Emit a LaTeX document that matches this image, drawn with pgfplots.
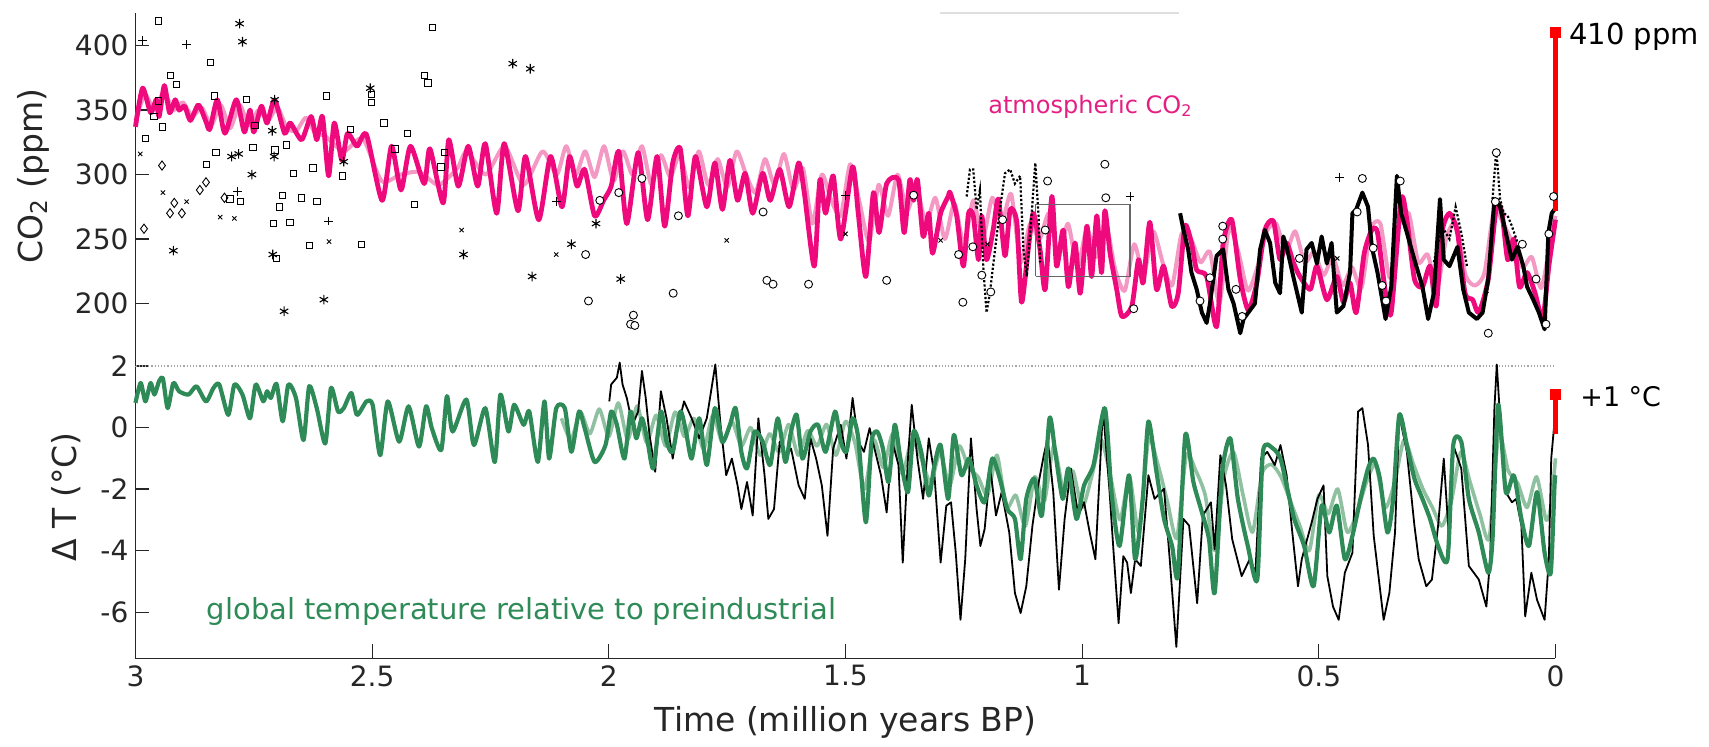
\documentclass[border=0pt]{standalone}
\usepackage{fontspec}
\setmainfont{DejaVu Sans}
\usepackage{pgfplots}
\pgfplotsset{compat=1.18}

\definecolor{co2pink}{RGB}{238,10,125}
\definecolor{co2light}{RGB}{240,110,170}
\definecolor{txtpink}{RGB}{228,30,130}
\definecolor{tgreen}{RGB}{46,139,87}
\definecolor{tlight}{RGB}{105,172,130}
\definecolor{axgray}{RGB}{38,38,38}

\pgfplotsset{
  base/.style={
    scale only axis, width=710pt, x dir=reverse, xmin=0, xmax=3,
    axis lines=left, axis line style={-, axgray, line width=0.6pt},
    tick align=inside, major tick length=7pt,
    tick style={axgray, line width=0.6pt},
    tick label style={font=\fontsize{14}{16}\selectfont, text=axgray},
    label style={font=\fontsize{16.5}{19}\selectfont, text=axgray},
    /pgf/number format/assume math mode=true,
    clip=false, anchor=south west,
  },
  sq/.style={only marks, mark=square, mark size=1.6pt, black, line width=0.45pt},
  ast/.style={only marks, mark=asterisk, mark size=2.4pt, black, line width=0.55pt},
  pls/.style={only marks, mark=+, mark size=2.2pt, black, line width=0.45pt},
  crs/.style={only marks, mark=x, mark size=1.5pt, black, line width=0.45pt},
  dia/.style={only marks, mark=diamond, mark size=2.3pt, black, line width=0.45pt},
  cir/.style={only marks, mark=*, mark size=2pt, mark options={fill=white, draw=black, line width=0.45pt}},
}

\begin{document}
\begin{tikzpicture}
\useasboundingbox (-67.75pt,-44.35pt) rectangle (786.75pt,329.15pt);

% ---------------- temperature panel ----------------
\begin{axis}[base, at={(0,0)}, height=146.15pt,
  ymin=-7.5, ymax=2, ytick={-6,-4,-2,0,2},
  xtick={0,0.5,1,1.5,2,2.5,3},
  xlabel={Time (million years BP)},
  ylabel={Δ T (°C)},
  xlabel style={at={(axis description cs:0.5,-0.218)}, anchor=center},
  ylabel style={at={(axis description cs:-0.049,0.552)}, anchor=center},
]
\addplot[gray!70, densely dotted, line width=0.6pt] coordinates {(3,2) (0,2)};

% lighter model realisations
\addplot[tlight, line width=1.8pt, opacity=0.75, line join=round, smooth, tension=0.4] coordinates {
(2.10,0.3) (2.08,-0.4) (2.06,0.5) (2.04,-0.2) (2.02,0.6) (2.00,-0.3) (1.98,0.8) (1.96,-0.4)
(1.94,0.7) (1.92,-0.5) (1.90,0.4) (1.88,-0.6) (1.86,0.5) (1.84,-0.3) (1.82,0.3) (1.80,-0.7)
(1.78,0.4) (1.76,-0.5) (1.74,0.2) (1.72,-0.6) (1.70,0.0) (1.68,-0.9) (1.66,-0.2) (1.64,-0.8)
(1.62,0.1) (1.60,-0.9) (1.58,-0.1) (1.56,-0.6) (1.54,0.1) (1.52,-0.9) (1.50,0.2) (1.48,-0.5)
(1.46,-2.0) (1.44,-0.4) (1.42,-1.3) (1.40,-0.2) (1.38,-1.5) (1.36,-0.4) (1.34,-1.0) (1.32,-1.8)
(1.30,-0.8) (1.28,-1.9) (1.26,-0.6) (1.24,-1.3) (1.22,-1.6) (1.20,-2.2) (1.18,-0.9) (1.16,-2.6)
(1.14,-2.2) (1.12,-3.2) (1.10,-1.6) (1.08,-2.4) (1.06,-0.6) (1.04,-2.0) (1.02,-1.4) (1.00,-2.6)
(0.98,-1.6) (0.96,-0.4) (0.94,-1.6) (0.92,-3.0) (0.90,-1.6) (0.88,-3.4) (0.86,-0.4) (0.84,-1.2)
(0.82,-2.4) (0.80,-3.6) (0.78,-0.9) (0.76,-1.4) (0.74,-2.2) (0.72,-4.0) (0.70,-1.6) (0.68,-0.8)
(0.66,-2.2) (0.64,-3.4) (0.62,-1.5) (0.60,-1.2) (0.58,-1.6) (0.56,-2.4) (0.54,-3.2) (0.52,-4.0)
(0.50,-2.2) (0.48,-2.8) (0.46,-2.0) (0.44,-3.4) (0.42,-2.8) (0.40,-1.8) (0.38,-1.2) (0.36,-2.6)
(0.34,-1.8) (0.32,-0.4) (0.30,-1.2) (0.28,-2.0) (0.26,-2.6) (0.24,-3.2) (0.22,-2.4) (0.20,-0.8)
(0.18,-1.8) (0.16,-2.8) (0.14,-3.6) (0.12,-0.2) (0.10,-1.4) (0.08,-1.8) (0.06,-2.6) (0.04,-1.6)
(0.02,-3.0) (0.01,-2.6) (0,-1.0)
};

% reconstruction (black)
\addplot[black, line width=0.9pt, line join=round] coordinates {
(1.999,0.85) (1.995,1.40) (1.983,1.62) (1.977,2.11) (1.971,1.40) (1.962,0.96) (1.950,0.09) (1.938,0.52)
(1.930,1.84) (1.922,0.96) (1.914,-0.24) (1.902,-1.44) (1.890,1.18) (1.878,0.30) (1.865,-1.01) (1.853,0.09)
(1.841,0.85) (1.825,0.30) (1.809,-0.35) (1.793,0.30) (1.775,2.05) (1.764,0.09) (1.752,-1.55) (1.740,-1.01)
(1.728,-1.88) (1.720,-2.65) (1.708,-1.77) (1.696,-2.86) (1.684,0.30) (1.671,-1.55) (1.663,-2.97) (1.651,-2.65)
(1.639,-0.46) (1.627,-1.01) (1.615,-0.68) (1.599,-1.88) (1.586,-2.32) (1.574,-0.35) (1.562,-1.01) (1.550,-1.88)
(1.538,-3.52) (1.526,-0.68) (1.510,0.09) (1.498,-1.01) (1.485,0.96) (1.473,-0.46) (1.461,-0.79) (1.449,-0.02)
(1.437,-0.79) (1.425,-1.55) (1.413,-2.76) (1.401,-0.46) (1.388,-1.22) (1.379,-4.39) (1.368,-1.01) (1.360,0.74)
(1.348,-1.01) (1.336,-2.32) (1.324,-0.35) (1.312,-1.55) (1.299,-4.39) (1.287,-2.54) (1.277,-2.43) (1.267,-4.07)
(1.257,-6.25) (1.247,-4.28) (1.235,-0.35) (1.223,-2.65) (1.215,-3.85) (1.206,-3.30) (1.194,-1.33) (1.182,-2.86)
(1.170,-2.10) (1.154,-3.41) (1.142,-5.38) (1.130,-6.03) (1.118,-5.16) (1.105,-3.19) (1.093,-1.88) (1.081,-0.90)
(1.073,-0.35) (1.061,-2.10) (1.049,-5.27) (1.037,-2.97) (1.024,-1.33) (1.008,-2.86) (0.996,-2.43) (0.984,-3.41)
(0.972,-4.28) (0.956,0.63) (0.942,-2.10) (0.934,-3.96) (0.923,-6.36) (0.913,-4.18) (0.905,-4.39) (0.897,-5.38)
(0.888,-4.28) (0.876,-4.50) (0.860,-1.55) (0.847,-2.32) (0.827,-1.99) (0.815,-4.28) (0.801,-7.13) (0.786,-2.97)
(0.774,-3.19) (0.757,-5.71) (0.745,-2.86) (0.728,-2.43) (0.720,-3.96) (0.708,-0.90) (0.696,-1.88) (0.683,-3.63)
(0.663,-4.83) (0.646,-4.28) (0.634,-4.72) (0.622,-1.01) (0.609,-0.79) (0.593,-1.22) (0.581,-0.57) (0.568,-1.55)
(0.556,-3.41) (0.544,-5.16) (0.536,-4.28) (0.515,-3.08) (0.503,-2.32) (0.490,-1.88) (0.482,-4.83) (0.470,-5.82)
(0.458,-6.25) (0.445,-4.72) (0.429,-4.07) (0.417,0.52) (0.408,0.63) (0.396,-0.57) (0.384,-3.52) (0.363,-6.25)
(0.351,-5.38) (0.339,-3.41) (0.330,0.41) (0.314,-0.79) (0.298,-3.19) (0.289,-4.28) (0.273,-5.16) (0.261,-4.94)
(0.248,-3.19) (0.236,-1.01) (0.224,-3.85) (0.216,-0.57) (0.199,-1.33) (0.183,-4.50) (0.162,-4.94) (0.146,-5.82)
(0.138,-4.28) (0.129,0.63) (0.124,2.05) (0.117,0.30) (0.105,-2.10) (0.092,-2.43) (0.083,-2.32) (0.072,-3.19)
(0.064,-6.14) (0.051,-4.72) (0.039,-5.60) (0.023,-6.25) (0.014,-4.28) (0.009,-1.01) (0.002,0.20)
};

% main model (green)
\addplot[tgreen, line width=2.1pt, line join=round, smooth, tension=0.4] coordinates {
(3.000,0.80) (2.989,1.45) (2.979,0.85) (2.968,1.45) (2.960,1.07) (2.950,1.51) (2.942,1.59) (2.932,0.63)
(2.920,1.45) (2.908,1.18) (2.888,1.07) (2.871,1.34) (2.851,0.85) (2.835,1.29) (2.823,1.40) (2.804,0.41)
(2.791,1.40) (2.774,1.07) (2.758,0.30) (2.746,1.40) (2.730,0.85) (2.722,1.18) (2.714,0.96) (2.702,1.42)
(2.689,0.20) (2.677,1.40) (2.661,0.96) (2.645,-0.41) (2.633,1.34) (2.617,0.63) (2.599,-0.52) (2.587,1.29)
(2.572,0.52) (2.560,0.63) (2.544,1.12) (2.532,0.41) (2.512,0.85) (2.499,0.74) (2.483,-0.90) (2.467,0.85)
(2.443,-0.46) (2.423,0.69) (2.401,-0.62) (2.386,0.69) (2.374,-0.02) (2.354,-0.73) (2.342,1.02) (2.330,-0.13)
(2.301,0.91) (2.285,-0.57) (2.261,0.63) (2.241,-1.12) (2.229,1.07) (2.212,-0.13) (2.200,0.74) (2.180,0.09)
(2.168,0.52) (2.150,-1.12) (2.136,0.85) (2.126,-1.01) (2.111,0.63) (2.093,0.63) (2.079,-0.79) (2.063,0.52)
(2.051,-0.02) (2.030,-1.12) (2.007,-0.57) (1.995,0.52) (1.983,0.09) (1.967,-1.01) (1.954,0.52) (1.942,-0.35)
(1.930,0.30) (1.918,-0.46) (1.906,-1.33) (1.890,0.52) (1.878,-0.46) (1.865,-0.79) (1.849,0.52) (1.837,-0.13)
(1.825,-1.01) (1.809,0.30) (1.793,-1.22) (1.776,0.63) (1.760,-0.46) (1.744,0.09) (1.732,0.63) (1.720,-0.79)
(1.708,-1.33) (1.692,-0.13) (1.675,-0.46) (1.659,-1.22) (1.643,0.30) (1.627,-1.12) (1.615,-0.13) (1.603,0.41)
(1.591,-1.01) (1.574,-0.13) (1.558,0.09) (1.542,-0.79) (1.522,0.52) (1.510,-0.46) (1.498,-0.79) (1.485,0.30)
(1.473,-0.35) (1.457,-3.08) (1.445,-0.46) (1.433,-0.13) (1.421,-0.68) (1.409,-1.77) (1.396,0.09) (1.384,-1.01)
(1.368,-2.10) (1.356,-0.13) (1.340,-0.79) (1.324,-2.21) (1.312,-1.22) (1.299,-0.57) (1.283,-2.32) (1.271,-0.24)
(1.255,-1.55) (1.239,-1.01) (1.223,-1.88) (1.206,-2.43) (1.190,-1.01) (1.174,-1.66) (1.158,-2.65) (1.142,-2.97)
(1.130,-4.28) (1.118,-2.32) (1.101,-1.66) (1.085,-2.86) (1.069,0.30) (1.057,-0.79) (1.041,-2.32) (1.029,-1.33)
(1.012,-2.97) (0.996,-1.88) (0.976,-1.22) (0.952,0.63) (0.938,-2.10) (0.921,-3.85) (0.901,-1.55) (0.888,-4.28)
(0.872,-2.32) (0.860,0.20) (0.843,-1.44) (0.827,-2.97) (0.810,-3.85) (0.798,-4.83) (0.782,-0.24) (0.765,-1.77)
(0.749,-2.65) (0.732,-3.63) (0.720,-5.38) (0.704,-1.44) (0.687,-0.35) (0.671,-2.32) (0.650,-3.85) (0.630,-4.94)
(0.618,-0.79) (0.597,-0.68) (0.581,-1.01) (0.568,-1.88) (0.552,-2.97) (0.531,-3.85) (0.511,-5.16) (0.494,-2.54)
(0.478,-3.41) (0.462,-2.54) (0.445,-4.28) (0.429,-3.52) (0.412,-2.32) (0.396,-1.33) (0.384,-1.01) (0.371,-1.66)
(0.355,-3.41) (0.343,-2.32) (0.330,0.41) (0.314,-0.57) (0.298,-1.66) (0.281,-2.32) (0.265,-2.97) (0.248,-3.85)
(0.228,-4.28) (0.216,-0.57) (0.199,-0.46) (0.183,-2.32) (0.162,-3.41) (0.142,-4.72) (0.133,-3.63) (0.121,0.74)
(0.105,-2.10) (0.088,-1.55) (0.072,-2.97) (0.056,-3.85) (0.039,-2.10) (0.023,-4.07) (0.010,-4.72) (0.002,-1.88)
(0,-1.55)
};

% present-day warming
\addplot[red, line width=2.5pt] coordinates {(0,-0.2) (0,1.08)};
\addplot[only marks, mark=square*, mark size=2.4pt, red] coordinates {(0,1.08)};

\node[anchor=base west, inner sep=0, font=\fontsize{13.5}{16}\selectfont] at (axis cs:0,0.67) [xshift=12.25pt] {+1 °C};
\node[anchor=base west, inner sep=0, font=\fontsize{14.5}{17}\selectfont, text=tgreen] at (axis cs:2.85,-6.25) {global temperature relative to preindustrial};
\end{axis}

% ---------------- CO2 panel ----------------
\begin{axis}[base, at={(0,146.15pt)}, height=176.65pt,
  ymin=151.6, ymax=425.5, ytick={200,250,300,350,400},
  axis x line=none, xtick=\empty,
  ylabel={CO\textsubscript{2} (ppm)},
  ylabel style={at={(axis description cs:-0.0722,0.537)}, anchor=center},
]
\addplot[gray!25, line width=1pt] coordinates {(1.30,425.5) (0.795,425.5)};

% light model realisations
\addplot[co2light, line width=2pt, opacity=0.7, line join=round, smooth, tension=0.4] coordinates {
(3.00,342) (2.98,362) (2.96,350) (2.94,364) (2.92,350) (2.90,356) (2.88,345) (2.86,352)
(2.84,338) (2.82,354) (2.80,336) (2.78,354) (2.76,338) (2.74,350) (2.72,342) (2.70,352)
(2.68,336) (2.66,334) (2.64,344) (2.62,332) (2.60,330) (2.56,318) (2.52,328) (2.48,295)
(2.44,300) (2.40,302) (2.36,292) (2.32,305)
(2.30,318) (2.26,300) (2.22,322) (2.18,292) (2.14,318) (2.11,300) (2.09,322) (2.07,300)
(2.05,318) (2.03,298) (2.01,322) (1.99,295) (1.97,318) (1.95,300) (1.93,322) (1.91,292)
(1.89,315) (1.87,298) (1.85,316) (1.83,290) (1.81,318) (1.79,292) (1.77,312) (1.75,290)
(1.73,318) (1.71,300) (1.69,286) (1.67,312) (1.65,292) (1.63,316) (1.61,288) (1.59,305)
(1.57,262) (1.55,300) (1.53,280) (1.51,268) (1.49,308) (1.47,278) (1.45,248) (1.43,292)
(1.41,268) (1.39,300) (1.37,272) (1.35,290) (1.33,262) (1.31,282) (1.29,250) (1.27,278)
(1.25,246) (1.23,280) (1.21,250) (1.19,282) (1.17,262) (1.15,285) (1.13,232) (1.11,262)
(1.09,250) (1.07,270) (1.05,236) (1.03,262) (1.01,228) (0.99,258) (0.97,236) (0.95,262)
(0.93,226) (0.91,210) (0.89,246) (0.87,222) (0.85,256) (0.83,232) (0.81,214) (0.79,254)
(0.77,250) (0.75,232) (0.73,240) (0.71,200) (0.69,258) (0.67,240) (0.65,210) (0.63,228)
(0.61,256) (0.59,262) (0.57,240) (0.55,256) (0.53,232) (0.51,240) (0.49,222) (0.47,236)
(0.45,214) (0.43,228) (0.41,212) (0.39,258) (0.37,262) (0.35,220) (0.33,262) (0.31,270)
(0.29,232) (0.27,238) (0.25,212) (0.23,252) (0.21,262) (0.19,222) (0.17,214) (0.15,224)
(0.13,272) (0.11,262) (0.09,246) (0.07,228) (0.05,236) (0.03,212) (0.01,250) (0,268)
};

% main model (pink)
\addplot[co2pink, line width=2.4pt, line join=round, smooth, tension=0.4] coordinates {
(3.000,337) (2.985,367) (2.968,348) (2.956,358) (2.950,345) (2.939,369) (2.928,348) (2.916,358)
(2.908,350) (2.896,353) (2.884,342) (2.867,354) (2.851,341) (2.843,335) (2.827,358) (2.811,332)
(2.787,358) (2.770,333) (2.758,350) (2.750,333) (2.734,353) (2.722,340) (2.706,358) (2.685,332)
(2.673,340) (2.649,327) (2.629,345) (2.617,327) (2.605,345) (2.592,299) (2.580,340) (2.564,311)
(2.552,332) (2.532,322) (2.512,331) (2.479,280) (2.459,322) (2.439,288) (2.419,322) (2.390,293)
(2.378,320) (2.350,278) (2.338,327) (2.318,291) (2.297,322) (2.277,291) (2.261,324) (2.237,270)
(2.221,324) (2.192,272) (2.176,314) (2.148,265) (2.123,314) (2.099,275) (2.083,314) (2.067,291)
(2.051,304) (2.030,268) (2.011,280) (1.995,291) (1.979,318) (1.962,262) (1.938,317) (1.918,265)
(1.898,314) (1.882,260) (1.865,309) (1.849,320) (1.833,268) (1.817,314) (1.793,275) (1.776,309)
(1.760,273) (1.744,311) (1.728,280) (1.712,301) (1.696,270) (1.675,301) (1.659,280) (1.639,304)
(1.619,275) (1.599,309) (1.587,286) (1.566,229) (1.554,296) (1.542,270) (1.526,299) (1.510,250)
(1.485,306) (1.473,270) (1.457,221) (1.441,286) (1.429,255) (1.413,293) (1.388,296) (1.376,255)
(1.364,296) (1.356,280) (1.348,296) (1.336,252) (1.324,270) (1.316,239) (1.299,270) (1.283,283)
(1.279,286) (1.265,268) (1.251,229) (1.240,270) (1.230,268) (1.219,234) (1.212,268) (1.202,234)
(1.188,257) (1.177,281) (1.163,237) (1.152,273) (1.138,263) (1.128,201) (1.114,242) (1.103,270)
(1.089,242) (1.078,211) (1.064,283) (1.054,229) (1.040,257) (1.029,213) (1.015,247) (1.004,208)
(0.990,260) (0.980,221) (0.969,268) (0.959,224) (0.952,272) (0.941,239) (0.927,211) (0.916,190)
(0.895,198) (0.881,234) (0.871,216) (0.857,263) (0.843,211) (0.828,229) (0.811,198) (0.797,208)
(0.783,260) (0.769,247) (0.758,226) (0.737,221) (0.716,182) (0.702,247) (0.684,265) (0.666,219)
(0.649,195) (0.631,216) (0.614,257) (0.596,264) (0.582,234) (0.568,247) (0.554,232) (0.540,221)
(0.518,211) (0.504,229) (0.483,203) (0.462,221) (0.448,201) (0.434,216) (0.421,193) (0.404,239)
(0.388,257) (0.376,255) (0.359,208) (0.347,193) (0.326,281) (0.314,265) (0.298,219) (0.281,213)
(0.265,229) (0.252,198) (0.240,255) (0.224,270) (0.207,255) (0.191,208) (0.175,203) (0.162,193)
(0.142,219) (0.125,275) (0.113,270) (0.101,234) (0.088,250) (0.076,213) (0.060,224) (0.043,208)
(0.027,188) (0.014,229) (0.002,260) (0,265)
};

% ice-core CO2 (black)
\addplot[black, line width=2pt, line join=round] coordinates {
(0.793,270) (0.786,257) (0.776,242) (0.769,224) (0.758,211) (0.747,193) (0.737,185) (0.730,200)
(0.716,237) (0.702,242) (0.691,211) (0.680,200) (0.666,177) (0.659,188) (0.645,195) (0.635,200)
(0.624,242) (0.614,257) (0.603,247) (0.592,216) (0.582,208) (0.575,252) (0.568,244) (0.554,221)
(0.536,193) (0.526,242) (0.515,247) (0.504,231) (0.494,252) (0.483,231) (0.473,247) (0.462,193)
(0.448,198) (0.434,224) (0.429,270) (0.421,273) (0.408,286) (0.396,275) (0.388,244) (0.376,224)
(0.359,188) (0.347,213) (0.335,299) (0.326,270) (0.314,255) (0.298,234) (0.281,213) (0.269,188)
(0.257,208) (0.244,281) (0.236,234) (0.224,229) (0.207,244) (0.195,211) (0.183,193) (0.166,188)
(0.154,193) (0.142,219) (0.129,281) (0.117,275) (0.105,255) (0.092,234) (0.080,244) (0.068,229)
(0.060,213) (0.047,203) (0.035,193) (0.023,180) (0.015,255) (0.008,270) (0.002,273)
};

% other ice records (dotted)
\addplot[black, line width=1.1pt, densely dotted] coordinates {
(1.244,283) (1.237,304) (1.230,304) (1.223,273) (1.216,288) (1.209,229) (1.202,193) (1.195,208)
(1.184,242) (1.173,275) (1.163,301) (1.152,304) (1.142,293) (1.131,299) (1.124,242) (1.117,221)
(1.107,268) (1.099,309) (1.092,268) (1.089,232)
};
\addplot[black, line width=1.1pt, densely dotted] coordinates {
(0.257,232) (0.240,260) (0.224,250) (0.211,275) (0.199,255) (0.187,229)
};
\addplot[black, line width=1.1pt, densely dotted] coordinates {
(0.133,281) (0.125,319) (0.117,281) (0.109,270) (0.101,268) (0.092,260) (0.080,247)
};

% selected interval
\addplot[gray!80!black, line width=0.6pt] coordinates {(1.098,221) (0.899,221) (0.899,277) (1.098,277) (1.098,221)};

% proxy data
\addplot[sq] coordinates {
(2.952,419) (2.841,387) (2.926,377) (2.913,370) (2.951,357) (2.961,345) (2.943,337) (2.979,328)
(2.833,361) (2.765,358) (2.748,338) (2.752,321) (2.830,317) (2.850,308) (2.800,281) (2.778,279)
(2.705,319) (2.681,323) (2.689,284) (2.696,275) (2.708,262) (2.674,263) (2.702,235) (2.666,301)
(2.649,282) (2.625,305) (2.617,279) (2.632,245) (2.596,361) (2.563,299) (2.546,335) (2.523,246)
(2.502,362) (2.502,356) (2.475,340) (2.452,320) (2.426,332) (2.411,277) (2.373,414) (2.390,377)
(2.382,371) (2.347,317) (2.355,306)
};
\addplot[ast] coordinates {
(2.780,417) (2.774,403) (2.706,358) (2.711,334) (2.782,316) (2.797,314) (2.707,314) (2.754,300)
(2.920,241) (2.710,238) (2.686,194) (2.602,203) (2.560,310) (2.504,367) (2.203,386) (2.166,382)
(2.307,238) (2.162,221) (2.079,246) (2.027,262) (1.975,219)
};
\addplot[pls] coordinates {
(2.985,404) (2.892,401) (2.785,287) (2.592,264) (2.110,279) (1.500,284) (0.899,283) (0.457,298)
};
\addplot[crs] coordinates {
(2.990,316) (2.942,286) (2.892,279) (2.821,267) (2.791,266) (2.591,248) (2.311,257) (2.111,238)
(1.751,249) (1.500,254) (1.299,249) (1.200,246) (0.461,235) (0.146,210)
};
\addplot[dia] coordinates {
(2.982,258) (2.944,307) (2.927,270) (2.918,278) (2.902,270) (2.864,288) (2.851,294) (2.812,282)
};
\addplot[cir] coordinates {
(2.049,238) (2.043,202) (2.019,280) (1.979,286) (1.930,297) (1.853,268) (1.864,208) (1.948,191)
(1.954,184) (1.945,183) (1.674,271) (1.666,218) (1.653,215) (1.578,215) (1.413,218) (1.356,284)
(1.261,238) (1.252,201) (1.231,244) (1.212,222) (1.193,209) (1.168,265) (1.073,295) (1.078,257)
(0.952,308) (0.950,282) (0.891,196) (0.703,260) (0.703,250) (0.730,220) (0.751,202) (0.675,211)
(0.662,190) (0.541,235) (0.419,271) (0.408,297) (0.385,243) (0.366,214) (0.358,202) (0.328,295)
(0.142,177) (0.125,317) (0.127,279) (0.070,246) (0.014,254) (0.020,184) (0.004,283) (0.041,219)
};

% today
\addplot[red, line width=2.5pt] coordinates {(0,272) (0,410)};
\addplot[only marks, mark=square*, mark size=2.4pt, red] coordinates {(0,410)};

\node[anchor=base west, inner sep=0, font=\fontsize{14.5}{17}\selectfont] at (axis cs:0,400.5) [xshift=6.75pt] {410 ppm};
\node[anchor=base west, inner sep=0, font=\fontsize{12}{14}\selectfont, text=txtpink] at (axis cs:1.199,347.7) {atmospheric CO\textsubscript{2}};
\end{axis}
\end{tikzpicture}
\end{document}
